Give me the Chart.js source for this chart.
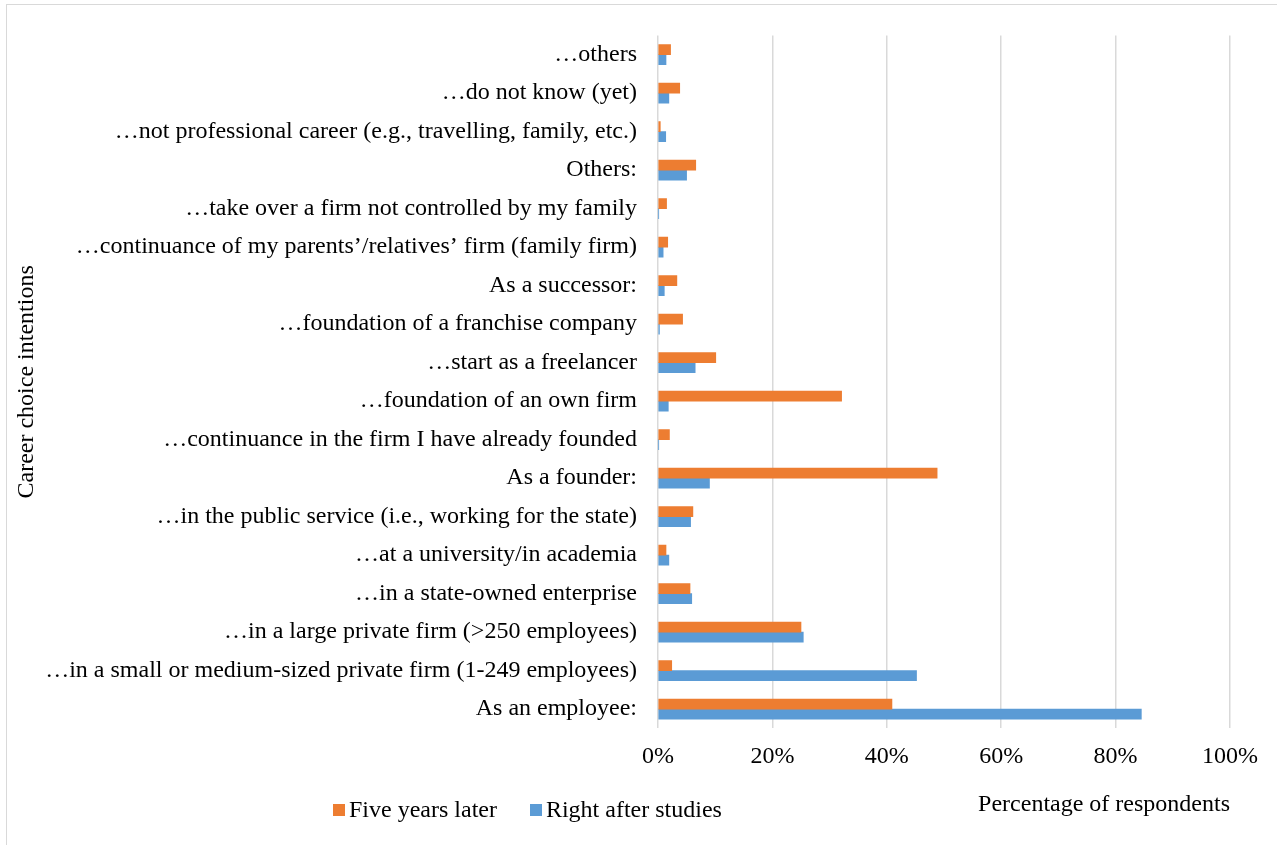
<!DOCTYPE html>
<html>
<head>
<meta charset="utf-8">
<script src="https://cdn.jsdelivr.net/npm/chart.js@4.4.1/dist/chart.umd.min.js"></script>
<style>
    html, body { margin: 0; padding: 0; background: #fff; overflow: hidden; }
    #moldura { position: absolute; left: 6px; top: 4px; width: 1290px; height: 860px; border: 1.5px solid #d9d9d9; }
    #grafico { position: absolute; left: 0; top: 0; }
    #legenda { position: absolute; left: 333px; top: 796px; font-family: "Liberation Serif", "Times New Roman", serif; font-size: 24px; color: #000; white-space: nowrap; }
    .item-legenda { display: inline-block; margin-right: 27px; }
    .caixa { display: inline-block; width: 12px; height: 12px; margin-right: 4px; vertical-align: 1px; }
</style>
</head>
<body>
<div id="moldura"></div>
<canvas id="grafico" width="1277" height="845"></canvas>
<div id="legenda"></div>

<script>
// categorias, de cima para baixo
const categorias = [
    '…others',
    '…do not know (yet)',
    '…not professional career (e.g., travelling, family, etc.)',
    'Others:',
    '…take over a firm not controlled by my family',
    '…continuance of my parents’/relatives’ firm (family firm)',
    'As a successor:',
    '…foundation of a franchise company',
    '…start as a freelancer',
    '…foundation of an own firm',
    '…continuance in the firm I have already founded',
    'As a founder:',
    '…in the public service (i.e., working for the state)',
    '…at a university/in academia',
    '…in a state-owned enterprise',
    '…in a large private firm (>250 employees)',
    '…in a small or medium-sized private firm (1-249 employees)',
    'As an employee:'
];

// percentuais
const cincoAnosDepois = [2.2, 3.8, 0.4, 6.6, 1.5, 1.7, 3.3, 4.3, 10.1, 32.1, 2.0, 48.8, 6.1, 1.4, 5.6, 25.0, 2.4, 40.9];
const logoAposEstudos = [1.4, 1.9, 1.35, 5.0, 0.1, 0.9, 1.1, 0.25, 6.5, 1.8, 0.1, 9.0, 5.7, 1.9, 5.9, 25.4, 45.2, 84.5];

const ticksEixoX = [0, 20, 40, 60, 80, 100];

const fonte = { family: '"Liberation Serif", "Times New Roman", serif', size: 24 };

Chart.defaults.color = '#000';

const ctx = document.getElementById('grafico').getContext('2d');
const grafico = new Chart(ctx, {
    type: 'bar',
    data: {
        labels: categorias,
        datasets: [
            { label: 'Five years later', data: cincoAnosDepois, backgroundColor: '#ED7D31', barThickness: 10 },
            { label: 'Right after studies', data: logoAposEstudos, backgroundColor: '#5B9BD5', barThickness: 10 }
        ]
    },
    options: {
        indexAxis: 'y',
        responsive: false,
        devicePixelRatio: 1,
        animation: false,
        layout: { padding: { left: 12, right: 47, top: 33.5, bottom: 10 } },
        plugins: { legend: { display: false }, tooltip: { enabled: false } },
        scales: {
            x: {
                min: 0,
                max: 100,
                afterBuildTicks: axis => { axis.ticks = ticksEixoX.map(v => ({ value: v })); },
                grid: { color: '#d9d9d9', lineWidth: 1.5, drawTicks: false },
                border: { display: false },
                ticks: { font: fonte, padding: 14, callback: v => v + '%' },
                title: { display: true, text: 'Percentage of respondents', font: fonte, align: 'end', padding: { top: 5, bottom: 16 } }
            },
            y: {
                // os rótulos são longos: o eixo passa da metade da largura
                afterFit: eixo => { eixo.width = 646; },
                grid: { display: false, drawTicks: false },
                border: { display: false },
                ticks: { font: fonte, padding: 21, autoSkip: false },
                title: { display: true, text: 'Career choice intentions', font: fonte, padding: { top: 0, bottom: 0 } }
            }
        }
    }
});

// legenda em HTML
document.getElementById('legenda').innerHTML = grafico.data.datasets.map(d => `
    <span class="item-legenda"><span class="caixa" style="background:${d.backgroundColor}"></span>${d.label}</span>
`).join('');
</script>
</body>
</html>
